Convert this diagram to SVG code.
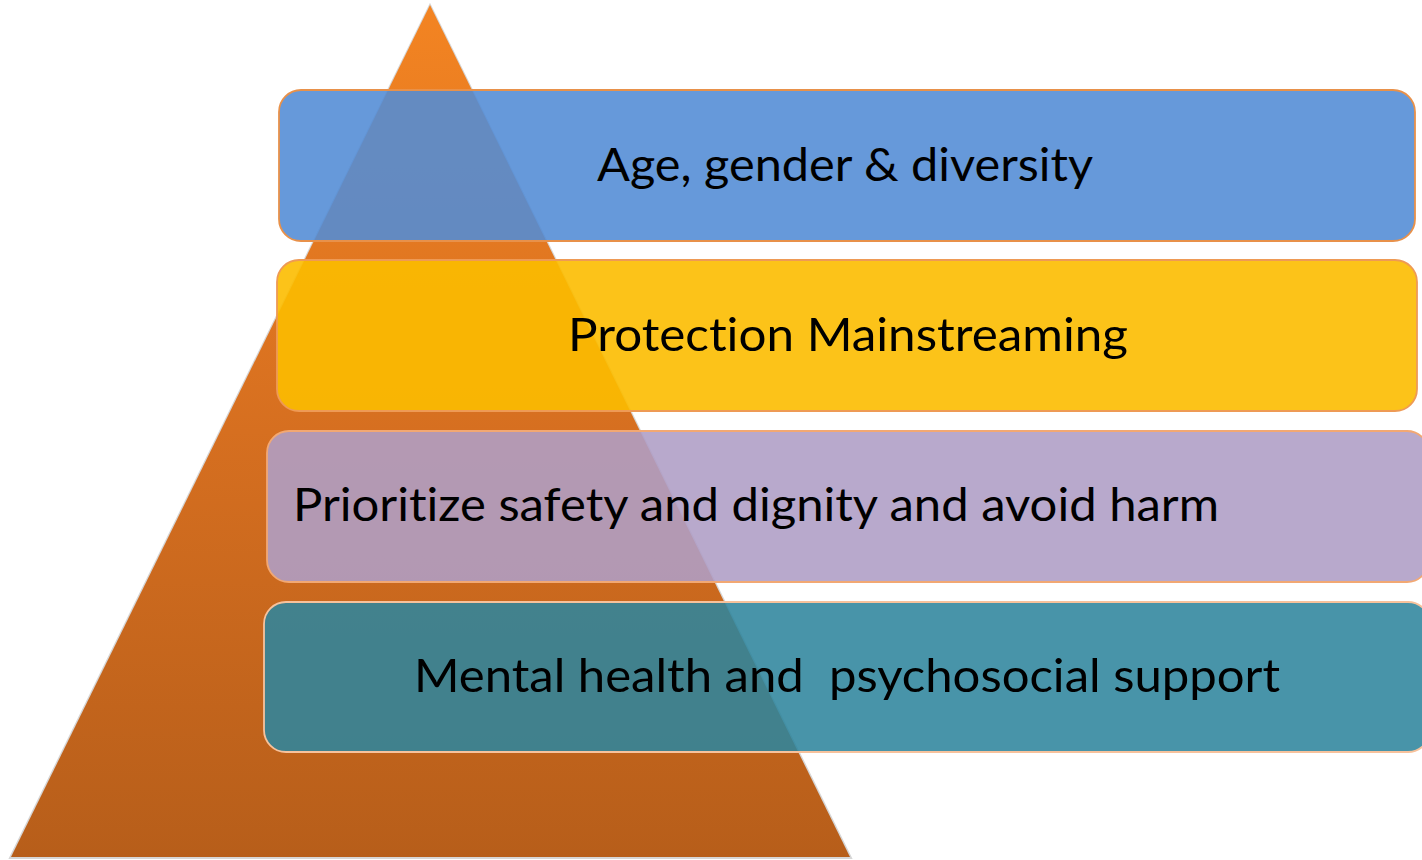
<svg xmlns="http://www.w3.org/2000/svg" width="1422" height="860" viewBox="0 0 1422 860">
  <defs>
    <linearGradient id="pyramidFill" x1="0" y1="5" x2="0" y2="857" gradientUnits="userSpaceOnUse">
      <stop offset="0" stop-color="#F38422"/>
      <stop offset="0.5" stop-color="#D66F20"/>
      <stop offset="1" stop-color="#B75E1A"/>
    </linearGradient>
    <style>
      .bar { stroke-width: 1.8; }
      .label { font-family: Lato, "Open Sans", "Liberation Sans", sans-serif; font-size: 47px; fill: #000; white-space: pre; font-variant-ligatures: none; font-feature-settings: "liga" 0, "dlig" 0; }
    </style>
  </defs>

  <rect width="1422" height="860" fill="#FFFFFF"/>

  <!-- pyramid behind the bars -->
  <g id="pyramid">
    <polygon points="430,5 851,858 10,858" fill="none" stroke="#BBBBBB" stroke-opacity="0.6" stroke-width="2"/>
    <polygon points="430,5 850,857 11,857" fill="url(#pyramidFill)"/>
  </g>

  <g id="connectors"/>

  <g id="bar-age-gender">
    <rect class="bar" x="279" y="90" width="1136" height="151" rx="22" fill="#538CD5" fill-opacity="0.89" stroke="#E8914A"/>
    <text class="label" x="597" y="181" textLength="496" lengthAdjust="spacingAndGlyphs">Age, gender &amp; diversity</text>
  </g>

  <g id="bar-protection">
    <rect class="bar" x="277" y="260" width="1140" height="151" rx="22" fill="#FCBD00" fill-opacity="0.9" stroke="#EE9A55"/>
    <text class="label" x="568" y="351" textLength="560" lengthAdjust="spacingAndGlyphs">Protection Mainstreaming</text>
  </g>

  <g id="bar-safety">
    <rect class="bar" x="267" y="431" width="1162" height="151" rx="22" fill="#AF9EC6" fill-opacity="0.89" stroke="#F2A873"/>
    <text class="label" x="293" y="521" textLength="926" lengthAdjust="spacingAndGlyphs">Prioritize safety and dignity and avoid harm</text>
  </g>

  <g id="bar-mhpss">
    <rect class="bar" x="264" y="602" width="1166" height="150" rx="22" fill="#2F859D" fill-opacity="0.88" stroke="#F7C29C"/>
    <text class="label" x="414" y="692" textLength="866" lengthAdjust="spacingAndGlyphs">Mental health and  psychosocial support</text>
  </g>
</svg>
